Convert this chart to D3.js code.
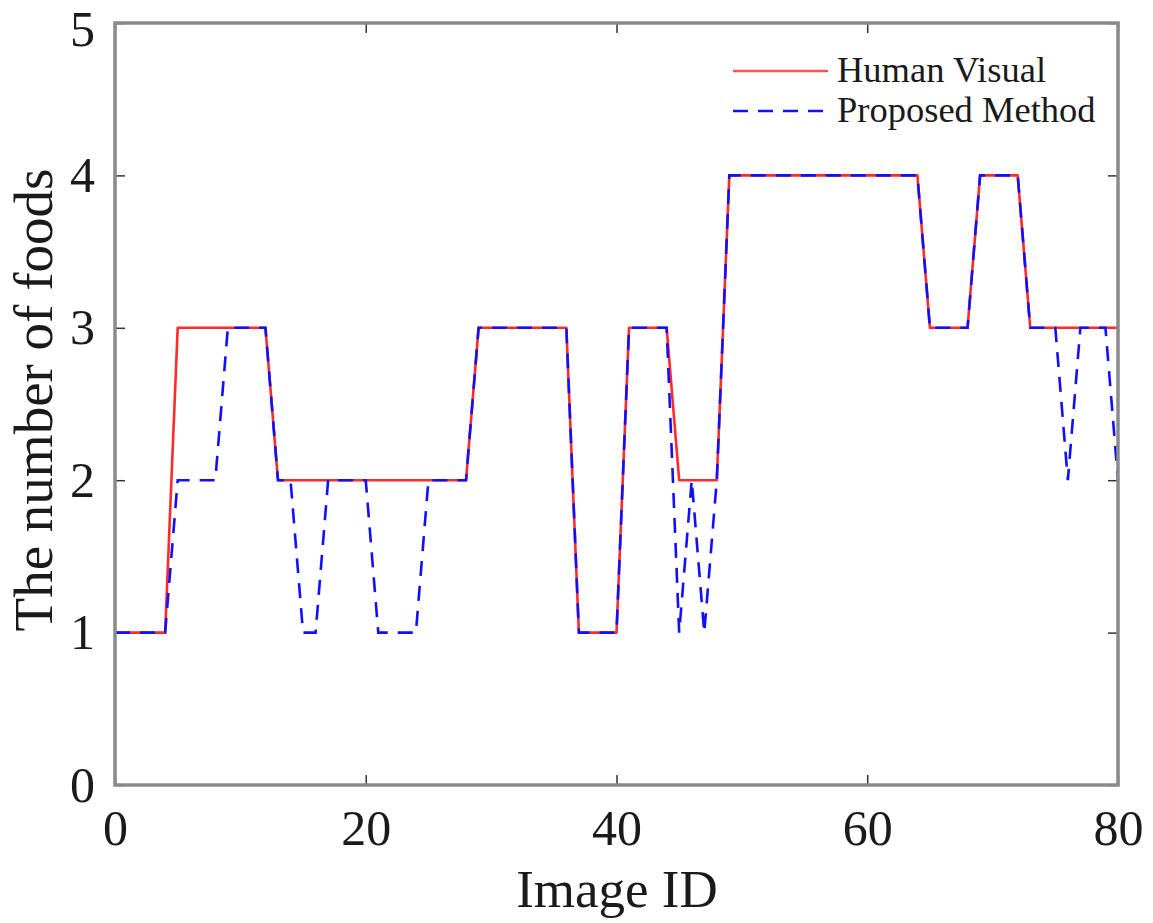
<!DOCTYPE html>
<html>
<head>
<meta charset="utf-8">
<script src="https://cdn.jsdelivr.net/npm/d3@7"></script>
<style>
  html, body { margin: 0; padding: 0; background: #fff; }
  svg { display: block; }
  text { font-family: "Liberation Serif", "Times New Roman", serif; fill: #1a1a1a; }
</style>
</head>
<body>
<svg id="chart" width="1153" height="923"></svg>
<script>
// ---- data ----
const imageIds = [0,1,2,3,4,5,6,7,8,9,10,11,12,13,14,15,16,17,18,19,20,21,22,23,24,25,26,27,28,29,30,31,32,33,34,35,36,37,38,39,40,41,42,43,44,45,46,47,48,49,50,51,52,53,54,55,56,57,58,59,60,61,62,63,64,65,66,67,68,69,70,71,72,73,74,75,76,77,78,79,80];
const humanVisual = [1,1,1,1,1, 3,3,3,3,3,3,3,3, 2,2,2,2,2,2,2,2,2,2,2,2,2,2,2,2, 3,3,3,3,3,3,3,3, 1,1,1,1, 3,3,3,3, 2,2,2,2, 4,4,4,4,4,4,4,4,4,4,4,4,4,4,4,4, 3,3,3,3, 4,4,4,4, 3,3,3,3,3,3,3,3];
const proposedMethod = [1,1,1,1,1, 2,2,2,2, 3,3,3,3, 2,2, 1,1, 2,2,2,2, 1,1,1,1, 2,2,2,2, 3,3,3,3,3,3,3,3, 1,1,1,1, 3,3,3,3, 1,2,1,2, 4,4,4,4,4,4,4,4,4,4,4,4,4,4,4,4, 3,3,3,3, 4,4,4,4, 3,3,3, 2, 3,3,3, 2];
const xTicks = [0, 20, 40, 60, 80];
const yTicks = [0, 1, 2, 3, 4, 5];
const seriesNames = ["Human Visual", "Proposed Method"];
const xLabel = "Image ID";
const yLabel = "The number of foods";

// ---- layout ----
const svg = d3.select("#chart");
const L = 115, R = 1118, T = 23, B = 785;
const x = d3.scaleLinear().domain([0, 80]).range([L, R]);
const y = d3.scaleLinear().domain([0, 5]).range([B, T]);

// axes (ticks inward)
const tickColor = "#333";
const gx = svg.append("g").attr("transform", `translate(0,${B})`)
  .call(d3.axisBottom(x).tickValues(xTicks).tickSize(-10).tickPadding(24).tickFormat(d3.format("d")));
const gy = svg.append("g").attr("transform", `translate(${L},0)`)
  .call(d3.axisLeft(y).tickValues(yTicks).tickSize(-10).tickPadding(20).tickFormat(d3.format("d")));
const gxt = svg.append("g").attr("transform", `translate(0,${T})`)
  .call(d3.axisTop(x).tickValues(xTicks).tickSize(-10).tickFormat(""));
const gyr = svg.append("g").attr("transform", `translate(${R},0)`)
  .call(d3.axisRight(y).tickValues(yTicks).tickSize(-10).tickFormat(""));
[gx, gy, gxt, gyr].forEach(g => {
  g.select(".domain").remove();
  g.selectAll(".tick line").attr("stroke", tickColor).attr("stroke-width", 1.5);
  g.selectAll(".tick text").style("font-size", "50px").attr("fill", "#1a1a1a")
    .style("font-family", '"Liberation Serif", "Times New Roman", serif');
});
// keep the top y label inside the canvas
gy.selectAll(".tick text").filter(d => d === 5).attr("y", 6);

// lines
const lineGen = vals => d3.line().x((d, i) => x(imageIds[i])).y(d => y(d))(vals);
svg.append("path").attr("d", lineGen(humanVisual))
  .attr("fill", "none").attr("stroke", "#ff2a2a").attr("stroke-width", 2.6)
  .attr("stroke-linejoin", "round");
svg.append("path").attr("d", lineGen(proposedMethod))
  .attr("fill", "none").attr("stroke", "#1010ff").attr("stroke-width", 2.6)
  .attr("stroke-dasharray", "15,10");

// box
svg.append("rect").attr("x", L).attr("y", T).attr("width", R - L).attr("height", B - T)
  .attr("fill", "none").attr("stroke", "#8a8a8a").attr("stroke-width", 3.5);

// axis labels
svg.append("text").attr("x", (L + R) / 2 + 0.5).attr("y", 907)
  .attr("text-anchor", "middle").style("font-size", "53px").text(xLabel);
svg.append("text").attr("transform", "translate(52,400) rotate(-90)")
  .attr("text-anchor", "middle").style("font-size", "55px").text(yLabel);

// legend
const legend = svg.append("g");
const legendColors = ["#ff5555", "#1010ff"];
const legendDash = [null, "15,10"];
const legendY = [71, 111];
seriesNames.forEach((name, i) => {
  legend.append("line").attr("x1", 733).attr("x2", 828)
    .attr("y1", legendY[i]).attr("y2", legendY[i])
    .attr("stroke", legendColors[i]).attr("stroke-width", 2.6)
    .attr("stroke-dasharray", legendDash[i]);
  legend.append("text").attr("x", 837).attr("y", legendY[i] + 11)
    .style("font-size", "36.5px").text(name);
});
</script>
</body>
</html>
